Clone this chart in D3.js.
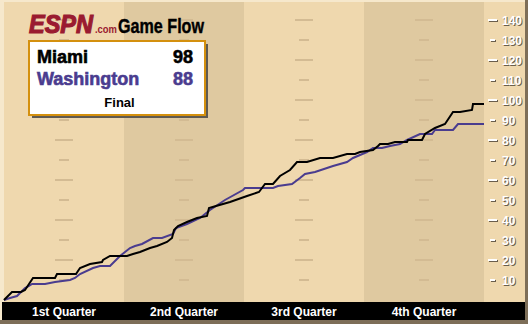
<!DOCTYPE html>
<html>
<head>
<meta charset="utf-8">
<script src="https://cdn.jsdelivr.net/npm/d3@7"></script>
<style>
  html, body { margin: 0; padding: 0; background: #fff; }
  svg { display: block; }
</style>
</head>
<body>
<svg id="chart" width="528" height="324"></svg>
<script>
// game flow data (minute of play, running score)
const miamiMinutes = [0, 0.8, 1.7, 2.1, 2.5, 2.9, 5.1, 5.3, 7.2, 7.6, 8.6, 9.8, 9.9, 10.6, 12.3, 12.9, 13.6, 14.6, 15.3, 16.3, 16.8, 17.0, 17.4, 18.3, 19.3, 20.3, 20.5, 21.2, 22.6, 24.3, 25.5, 26.1, 26.9, 27.6, 28.6, 29.3, 30.3, 31.6, 32.9, 34.3, 35.1, 35.6, 36.9, 37.4, 37.6, 38.4, 39.1, 40.3, 40.4, 41.8, 42.1, 43.1, 44.1, 44.9, 45.6, 46.8, 46.9, 48];
const miamiScores  = [0, 4, 4, 5, 8, 11, 11, 13, 13, 16, 18, 19, 20, 22, 22, 23, 24, 26, 27, 29, 31, 35, 37, 39, 41, 42, 46, 47, 49, 52, 54, 58, 58, 62, 65, 69, 69, 71, 71, 73, 73, 74, 75, 77, 78, 78, 79, 79, 80, 80, 83, 86, 88, 94, 94, 95, 98, 98];

const washMinutes = [0, 0.6, 1.3, 2.1, 2.5, 2.8, 4.1, 5.1, 6.6, 7.1, 7.6, 8.9, 9.6, 10.6, 11.6, 12.6, 13.1, 13.8, 14.9, 15.8, 16.9, 17.2, 18.3, 19.6, 20.6, 22.1, 23.9, 24.1, 26.9, 27.4, 28.8, 29.6, 30.1, 31.1, 32.3, 32.9, 34.3, 34.9, 36.3, 36.9, 37.8, 38.6, 39.6, 40.3, 41.6, 42.8, 43.1, 44.9, 45.4, 48];
const washScores  = [0, 1, 2, 6, 7, 8, 8, 9, 10, 11, 13, 16, 17, 17, 22, 26, 27, 28, 31, 31, 33, 36, 38, 41, 45, 50, 55, 56, 56, 57, 58, 61, 63, 64, 66, 67, 69, 71, 74, 76, 76, 77, 78, 80, 83, 83, 85, 85, 88, 88];

const quarterLabels = ['1st Quarter', '2nd Quarter', '3rd Quarter', '4th Quarter'];
const tickValues = [10, 20, 30, 40, 50, 60, 70, 80, 90, 100, 110, 120, 130, 140];

const teams = ['Miami', 'Washington'];
const finalScores = [98, 88];
const teamColors = ['#000000', '#4a3c8f'];

const svg = d3.select('#chart');

const x = d3.scaleLinear().domain([0, 48]).range([4, 484]);
const y = d3.scaleLinear().domain([0, 140]).range([300, 20]);

// frame / bevel
svg.append('rect').attr('x', 0).attr('y', 0).attr('width', 528).attr('height', 324).attr('fill', '#7d6e58');
svg.append('rect').attr('x', 0).attr('y', 0).attr('width', 525).attr('height', 320).attr('fill', '#f6e8cc');

// quarter bands
const bandColors = ['#efd8ae', '#dfc9a0'];
svg.selectAll('rect.band')
  .data(d3.range(4))
  .enter()
  .append('rect')
  .attr('class', 'band')
  .attr('x', d => x(d * 12))
  .attr('y', 2)
  .attr('width', x(12) - x(0))
  .attr('height', 300)
  .attr('fill', d => bandColors[d % 2]);

// right axis panel
svg.append('rect').attr('x', x(48)).attr('y', 2).attr('width', 525 - x(48)).attr('height', 300).attr('fill', '#efd8ae');

// faint guide dashes in the middle of each quarter
d3.range(4).forEach(q => {
  const cx = x(q * 12 + 6);
  svg.selectAll(null)
    .data(tickValues)
    .enter()
    .append('rect')
    .attr('x', d => cx - (d % 20 === 0 ? 9 : 5))
    .attr('y', d => y(d) - 1)
    .attr('width', d => d % 20 === 0 ? 18 : 10)
    .attr('height', 2)
    .attr('fill', '#d3bb93');
});

// right axis ticks & labels (white with dark shadow)
const axisG = svg.append('g');
[['#6a5e4c', 1], ['#ffffff', 0]].forEach(([col, off]) => {
  axisG.selectAll(null)
    .data(tickValues)
    .enter()
    .append('rect')
    .attr('x', d => (d % 20 === 0 ? 488 : 490) + off)
    .attr('y', d => y(d) - 1 + off)
    .attr('width', d => d % 20 === 0 ? 9 : 5)
    .attr('height', 2)
    .attr('fill', col);
  axisG.selectAll(null)
    .data(tickValues)
    .enter()
    .append('text')
    .attr('x', 502 + off)
    .attr('y', d => y(d) + 4.5 + off)
    .attr('font-family', 'Liberation Sans, Arial, sans-serif')
    .attr('font-weight', 'bold')
    .attr('font-size', 12)
    .attr('fill', col)
    .text(d => d);
});

// score lines
const line = d3.line().x(d => x(d[0])).y(d => y(d[1]));
const washData = d3.zip(washMinutes, washScores);
const miamiData = d3.zip(miamiMinutes, miamiScores);

svg.append('path')
  .datum(washData)
  .attr('d', line)
  .attr('fill', 'none')
  .attr('stroke', teamColors[1])
  .attr('stroke-width', 2);

svg.append('path')
  .datum(miamiData)
  .attr('d', line)
  .attr('fill', 'none')
  .attr('stroke', teamColors[0])
  .attr('stroke-width', 2);

// bottom quarter bar
svg.append('rect').attr('x', 2).attr('y', 302).attr('width', 523).attr('height', 18).attr('fill', '#000');
svg.selectAll('text.quarter')
  .data(quarterLabels)
  .enter()
  .append('text')
  .attr('class', 'quarter')
  .attr('x', (d, i) => x(i * 12 + 6))
  .attr('y', 316)
  .attr('text-anchor', 'middle')
  .attr('font-family', 'Liberation Sans, Arial, sans-serif')
  .attr('font-weight', 'bold')
  .attr('font-size', 12)
  .attr('fill', '#fff')
  .text(d => d);

// title
svg.append('text')
  .attr('x', 29).attr('y', 33)
  .attr('font-family', 'Liberation Sans, Arial, sans-serif')
  .attr('font-weight', 'bold')
  .attr('font-style', 'italic')
  .attr('font-size', 25)
  .attr('textLength', 64)
  .attr('lengthAdjust', 'spacingAndGlyphs')
  .attr('fill', '#9a1b30')
  .attr('stroke', '#9a1b30')
  .attr('stroke-width', 1.2)
  .text('ESPN');
svg.append('text')
  .attr('x', 95).attr('y', 33)
  .attr('font-family', 'Liberation Sans, Arial, sans-serif')
  .attr('font-weight', 'bold')
  .attr('font-size', 10)
  .attr('textLength', 22)
  .attr('lengthAdjust', 'spacingAndGlyphs')
  .attr('fill', '#9a1b30')
  .text('.com');
svg.append('text')
  .attr('x', 118).attr('y', 33)
  .attr('font-family', 'Liberation Sans, Arial, sans-serif')
  .attr('font-weight', 'bold')
  .attr('font-size', 20)
  .attr('textLength', 86)
  .attr('lengthAdjust', 'spacingAndGlyphs')
  .attr('fill', '#000')
  .attr('stroke', '#000')
  .attr('stroke-width', 0.4)
  .text('Game Flow');

// legend box
svg.append('rect').attr('x', 32).attr('y', 44).attr('width', 176).attr('height', 74).attr('fill', '#5e5a52');
svg.append('rect').attr('x', 29).attr('y', 41).attr('width', 176).attr('height', 74)
  .attr('fill', '#fff').attr('stroke', '#d4900e').attr('stroke-width', 2);

const legendRows = [62.5, 85];
teams.forEach((t, i) => {
  svg.append('text')
    .attr('x', 37).attr('y', legendRows[i])
    .attr('font-family', 'Liberation Sans, Arial, sans-serif')
    .attr('font-weight', 'bold')
    .attr('font-size', 18)
    .attr('fill', teamColors[i])
    .attr('stroke', teamColors[i])
    .attr('stroke-width', 0.6)
    .text(t);
  svg.append('text')
    .attr('x', 193).attr('y', legendRows[i])
    .attr('text-anchor', 'end')
    .attr('font-family', 'Liberation Sans, Arial, sans-serif')
    .attr('font-weight', 'bold')
    .attr('font-size', 18)
    .attr('fill', teamColors[i])
    .attr('stroke', teamColors[i])
    .attr('stroke-width', 0.6)
    .text(finalScores[i]);
});
svg.append('text')
  .attr('x', 119.5).attr('y', 106.5)
  .attr('text-anchor', 'middle')
  .attr('font-family', 'Liberation Sans, Arial, sans-serif')
  .attr('font-weight', 'bold')
  .attr('font-size', 13)
  .attr('fill', '#000')
  .text('Final');
</script>
</body>
</html>
